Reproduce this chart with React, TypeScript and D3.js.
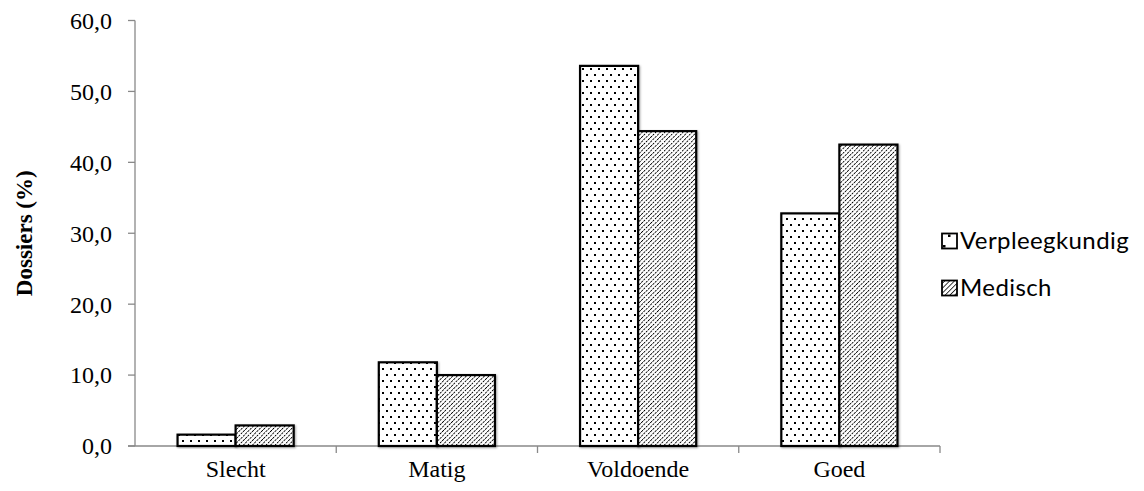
import React from "react";
import * as d3 from "d3";

const categories = ["Slecht", "Matig", "Voldoende", "Goed"];
const seriesNames = ["Verpleegkundig", "Medisch"];
const verpleegkundig = [1.6, 11.8, 53.6, 32.8];
const medisch = [2.9, 10.0, 44.4, 42.5];
const yTicks = [0, 10, 20, 30, 40, 50, 60];

const W = 1144, H = 491;
const m = { left: 135, right: 204, top: 20.5, bottom: 45 };

export default function App() {
  const x = d3.scaleBand().domain(categories).range([m.left, W - m.right]).paddingInner(0.423).paddingOuter(0.2115);
  const inner = d3.scaleBand().domain(seriesNames).range([0, x.bandwidth()]);
  const y = d3.scaleLinear().domain([0, 60]).range([H - m.bottom, m.top]);
  const series = [verpleegkundig, medisch];
  const fills = ["url(#dots)", "url(#hatch)"];
  const y0 = y(0);
  const step = (W - m.right - m.left) / categories.length;
  return (
    <svg width={W} height={H} style={{ position: "absolute", left: 0, top: 0 }}>
      <defs>
        <pattern id="dots" width="8" height="12" patternUnits="userSpaceOnUse">
          <rect width="8" height="12" fill="#fff" />
          <rect x="2" y="2" width="2" height="2" fill="#000" />
          <rect x="6" y="8" width="2" height="2" fill="#000" />
        </pattern>
        <pattern id="hatch" width="3.2" height="3.2" patternUnits="userSpaceOnUse" patternTransform="rotate(45)">
          <rect width="3.2" height="3.2" fill="#fff" />
          <line x1="0" y1="0" x2="0" y2="3.2" stroke="#000" strokeWidth="1.7" strokeDasharray="2.4 0.8" />
        </pattern>
        <pattern id="hatchS" width="3.4" height="3.4" patternUnits="userSpaceOnUse" patternTransform="rotate(45)">
          <rect width="3.4" height="3.4" fill="#fff" />
          <line x1="0" y1="0" x2="0" y2="3.4" stroke="#000" strokeWidth="1.5" />
        </pattern>
        <pattern id="dotsS" width="15" height="15" patternUnits="userSpaceOnUse" x="942" y="0">
          <rect width="15" height="15" fill="#fff" />
          <rect x="4" y="4" width="2.5" height="2.5" fill="#000" />
          <rect x="9" y="8.5" width="2.5" height="2.5" fill="#000" />
        </pattern>
        <filter id="sh" x="-10%" y="-10%" width="130%" height="130%">
          <feDropShadow dx="1" dy="1" stdDeviation="0.8" floodColor="#000" floodOpacity="0.35" />
        </filter>
      </defs>
      <rect width={W} height={H} fill="#fff" />
      {/* y axis */}
      <line x1={m.left} x2={m.left} y1={m.top} y2={y0} stroke="#898989" strokeWidth="1.3" />
      {yTicks.map((t) => (
        <g key={t}>
          <line x1={m.left - 7} x2={m.left} y1={y(t)} y2={y(t)} stroke="#898989" strokeWidth="1.3" />
          <text x={112} y={y(t)} dy="0.35em" textAnchor="end" fontFamily="Liberation Serif" fontSize="24" fill="#000">
            {t.toFixed(1).replace(".", ",")}
          </text>
        </g>
      ))}
      {/* x axis */}
      <line x1={m.left - 7} x2={W - m.right} y1={y0} y2={y0} stroke="#898989" strokeWidth="1.3" />
      {categories.map((c, i) => (
        <g key={c}>
          <line x1={m.left + step * (i + 1)} x2={m.left + step * (i + 1)} y1={y0} y2={y0 + 7} stroke="#898989" strokeWidth="1.3" />
          <text x={(x(c) as number) + x.bandwidth() / 2} y={y0 + 31} textAnchor="middle" fontFamily="Liberation Serif" fontSize="24" fill="#000">
            {c}
          </text>
        </g>
      ))}
      {/* bars */}
      {series.map((vals, s) =>
        vals.map((v, i) => (
          <rect
            key={s + "-" + i}
            x={(x(categories[i]) as number) + (inner(seriesNames[s]) as number)}
            y={y(v)}
            width={inner.bandwidth()}
            height={y0 - y(v)}
            fill={fills[s]}
            stroke="#000"
            strokeWidth="2.2"
            filter="url(#sh)"
          />
        ))
      )}
      {/* y label */}
      <text transform={`translate(24,${(m.top + y0) / 2}) rotate(-90)`} textAnchor="middle" dy="0.35em" fontFamily="Liberation Serif" fontWeight="bold" fontSize="23" fill="#000">
        Dossiers (%)
      </text>
      {/* legend */}
      {seriesNames.map((n, s) => (
        <g key={n} transform={`translate(942,${241 + s * 47})`}>
          <rect x={0} y={-7.5} width={15} height={15} fill={s === 0 ? "url(#dotsS)" : "url(#hatchS)"} stroke="#000" strokeWidth="1.8" />
          <text x={18} y={0} dy="0.35em" fontFamily="Lato" fontSize="24" letterSpacing="0.4" fill="#000">
            {n}
          </text>
        </g>
      ))}
    </svg>
  );
}
